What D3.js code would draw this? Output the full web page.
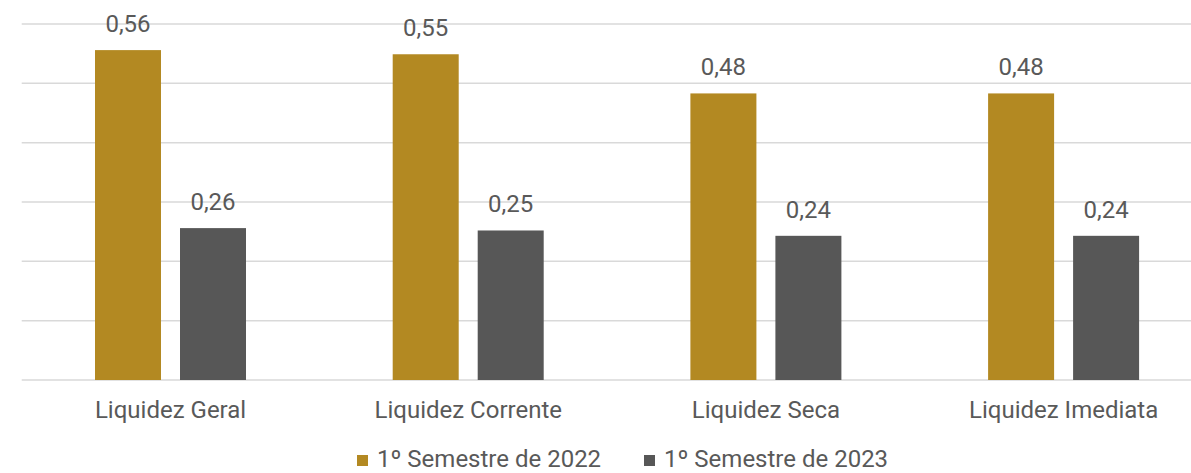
<!DOCTYPE html>
<html><head><meta charset="utf-8">
<script src="https://cdn.jsdelivr.net/npm/d3@7"></script>
<style>body{margin:0;background:#fff}svg{display:block}text{font-family:Roboto,"Noto Sans",sans-serif;fill:#595959}</style>
</head><body><svg id="c" width="1191" height="473"></svg>
<script>
const categories = ["Liquidez Geral","Liquidez Corrente","Liquidez Seca","Liquidez Imediata"];
const seriesNames = ["1º Semestre de 2022","1º Semestre de 2023"];
const s2022 = [0.556,0.549,0.483,0.483];
const s2023 = [0.256,0.252,0.243,0.243];
const yTicks = [0,0.1,0.2,0.3,0.4,0.5,0.6];
const colors = ["#B38922","#575757"];

const svg = d3.select("#c");
const x0 = d3.scaleBand().domain(categories).range([21.7, 21.7+4*297.7]).padding(0);
const x1 = d3.scaleBand().domain(seriesNames).range([73.3, 73.3+151]).paddingInner(0.2235).paddingOuter(0);
const y = d3.scaleLinear().domain([0,0.6]).range([380,24]);
const fmt = v => d3.format(".2f")(v).replace(".",",");

svg.append("g").selectAll("line").data(yTicks).join("line")
  .attr("x1",x0.range()[0]).attr("x2",x0.range()[1])
  .attr("y1",d=>y(d)).attr("y2",d=>y(d))
  .attr("stroke","#d9d9d9").attr("stroke-width",1.5);

const data = categories.map((c,i)=>({c, vals:[{s:seriesNames[0],v:s2022[i],k:0},{s:seriesNames[1],v:s2023[i],k:1}]}));
const g = svg.append("g").selectAll("g").data(data).join("g").attr("transform",d=>`translate(${x0(d.c)},0)`);
g.selectAll("rect").data(d=>d.vals).join("rect")
  .attr("x",d=>x1(d.s)).attr("width",x1.bandwidth())
  .attr("y",d=>y(d.v)).attr("height",d=>y(0)-y(d.v))
  .attr("fill",d=>colors[d.k]);
g.selectAll("text").data(d=>d.vals).join("text")
  .attr("x",d=>x1(d.s)+x1.bandwidth()/2).attr("y",d=>y(d.v)-18)
  .attr("text-anchor","middle").attr("font-size","24px").text(d=>fmt(d.v));

svg.append("g").selectAll("text").data(categories).join("text")
  .attr("x",d=>x0(d)+x0.bandwidth()/2).attr("y",418)
  .attr("text-anchor","middle").attr("font-size","24px").text(d=>d);

const legX = [357, 644];
const lg = svg.append("g").selectAll("g").data(seriesNames).join("g")
  .attr("transform",(d,i)=>`translate(${legX[i]},0)`);
lg.append("rect").attr("x",0).attr("y",455).attr("width",11).attr("height",11).attr("fill",(d,i)=>colors[i]);
lg.append("text").attr("x",20).attr("y",467).attr("font-size","24px").text(d=>d);
</script></body></html>
